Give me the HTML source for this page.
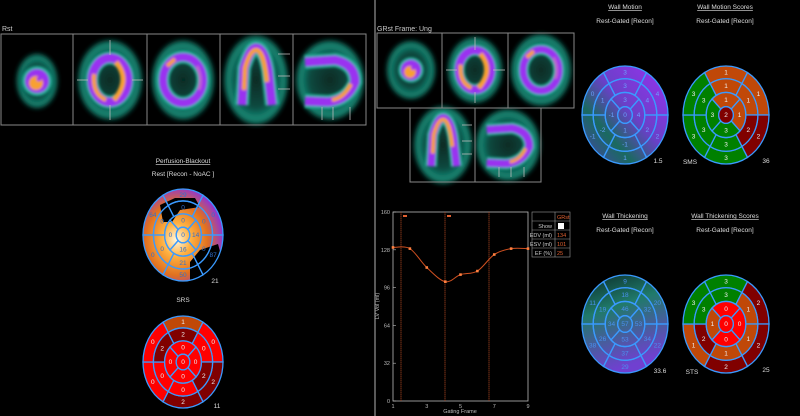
<!DOCTYPE html>
<html><head><meta charset="utf-8"><style>
html,body{margin:0;padding:0;background:#000;}
svg{display:block;font-family:"Liberation Sans",sans-serif;}
</style></head><body>
<svg id="s" width="800" height="416" viewBox="0 0 800 416" xmlns="http://www.w3.org/2000/svg">
<defs>
<filter id="b2" x="-50%" y="-50%" width="200%" height="200%"><feGaussianBlur stdDeviation="1.3"/></filter>
<filter id="b4" x="-50%" y="-50%" width="200%" height="200%"><feGaussianBlur stdDeviation="2.5"/></filter>
<radialGradient id="teal"><stop offset="0" stop-color="#062a24"/><stop offset="0.6" stop-color="#0a4a40"/><stop offset="0.85" stop-color="#168a76"/><stop offset="0.95" stop-color="#0f5a4c"/><stop offset="1" stop-color="#0a3a32" stop-opacity="0"/></radialGradient>
<radialGradient id="perf" cx="0.42" cy="0.55" r="0.6"><stop offset="0" stop-color="#fff8e0"/><stop offset="0.3" stop-color="#ffb040"/><stop offset="0.65" stop-color="#e07020"/><stop offset="1" stop-color="#8a30e0"/></radialGradient>
<linearGradient id="wm" x1="1" y1="0" x2="0" y2="1"><stop offset="0" stop-color="#9a30f0"/><stop offset="0.45" stop-color="#6a40c8"/><stop offset="0.7" stop-color="#1a6a60"/><stop offset="1" stop-color="#4a40b0"/></linearGradient>
<linearGradient id="wt" x1="0" y1="0" x2="0.3" y2="1"><stop offset="0" stop-color="#0a2a28"/><stop offset="0.4" stop-color="#207a6a"/><stop offset="1" stop-color="#7040d0"/></linearGradient>
<radialGradient id="wtc"><stop offset="0" stop-color="#e06060"/><stop offset="0.4" stop-color="#9a30f0"/><stop offset="1" stop-color="#9a30f0" stop-opacity="0"/></radialGradient>
</defs>
<line x1="375" y1="0" x2="375" y2="416" stroke="#777" stroke-width="1.5"/>
<g font-size="7" fill="#ccc">
<text x="2" y="31">Rst</text>
<text x="377" y="31">GRst  Frame: Ung</text>
</g>
<g id="imgs"></g>
<g fill="none" stroke="#888" stroke-width="1">
<rect x="1" y="34" width="365" height="91"/>
<line x1="73" y1="34" x2="73" y2="125"/><line x1="147" y1="34" x2="147" y2="125"/><line x1="220" y1="34" x2="220" y2="125"/><line x1="293" y1="34" x2="293" y2="125"/>
<rect x="377" y="33" width="197" height="75"/>
<line x1="442" y1="33" x2="442" y2="108"/><line x1="508" y1="33" x2="508" y2="108"/>
<rect x="410" y="108" width="131" height="74"/><line x1="475" y1="108" x2="475" y2="182"/>
</g>
<g stroke="#bbb" stroke-width="0.8">
<line x1="110" y1="40" x2="110" y2="55"/><line x1="110" y1="105" x2="110" y2="120"/><line x1="77" y1="80" x2="88" y2="80"/><line x1="132" y1="80" x2="143" y2="80"/>
<line x1="278" y1="54" x2="290" y2="54"/><line x1="278" y1="76" x2="290" y2="76"/><line x1="278" y1="89" x2="290" y2="89"/>
<line x1="322" y1="107" x2="322" y2="120"/><line x1="333" y1="107" x2="333" y2="120"/><line x1="350" y1="107" x2="350" y2="120"/>
<line x1="475" y1="37" x2="475" y2="50"/><line x1="475" y1="92" x2="475" y2="103"/><line x1="446" y1="70" x2="457" y2="70"/><line x1="493" y1="70" x2="505" y2="70"/>
<line x1="462" y1="125" x2="472" y2="125"/><line x1="462" y1="141" x2="472" y2="141"/><line x1="462" y1="154" x2="472" y2="154"/>
<line x1="499" y1="167" x2="499" y2="177"/><line x1="511" y1="167" x2="511" y2="177"/><line x1="524" y1="167" x2="524" y2="177"/>
</g>
<g font-size="5.5" fill="#bbb">
<rect x="393" y="212" width="135" height="189" fill="none" stroke="#bbb" stroke-width="0.8"/>
<g id="ticks"></g>
<text x="460" y="413" text-anchor="middle">Gating Frame</text>
<text transform="translate(379,306) rotate(-90)" text-anchor="middle">LV Vol (ml)</text>
</g>
<g stroke="#a04020" stroke-width="0.8" stroke-dasharray="1.5,0.5">
<line x1="401" y1="212" x2="401" y2="401"/><line x1="445" y1="212" x2="445" y2="401"/><line x1="489" y1="212" x2="489" y2="401"/>
</g>
<rect x="403" y="215" width="4" height="2" fill="#e06030"/><rect x="447" y="215" width="4" height="2" fill="#e06030"/>
<path id="curve" fill="none" stroke="#d05020" stroke-width="1"/>
<g id="pts" fill="#ff8040"></g>
<g font-size="5.5" fill="#ccc" stroke="#999" stroke-width="0.6">
<rect x="532" y="212" width="38" height="45" fill="none"/>
<line x1="532" y1="221" x2="570" y2="221"/><line x1="532" y1="230" x2="570" y2="230"/><line x1="532" y1="239" x2="570" y2="239"/><line x1="532" y1="248" x2="570" y2="248"/>
<line x1="555" y1="212" x2="555" y2="257"/>
</g>
<g font-size="5.5" fill="#ccc">
<text x="557" y="219" fill="#e06030">GRst</text>
<text x="552" y="228" text-anchor="end">Show</text><rect x="558" y="223" width="6" height="6" fill="#fff"/>
<text x="552" y="237" text-anchor="end">EDV (ml)</text><text x="557" y="237" fill="#e06030">134</text>
<text x="552" y="246" text-anchor="end">ESV (ml)</text><text x="557" y="246" fill="#e06030">101</text>
<text x="552" y="255" text-anchor="end">EF (%)</text><text x="557" y="255" fill="#e06030">25</text>
</g>
<g font-size="6.5" fill="#ddd" text-anchor="middle">
<text x="183" y="163" text-decoration="underline">Perfusion-Blackout</text>
<text x="183" y="176">Rest [Recon - NoAC ]</text>
<text x="183" y="302">SRS</text>
<text x="625" y="9" text-decoration="underline">Wall Motion</text>
<text x="625" y="23">Rest-Gated [Recon]</text>
<text x="725" y="9" text-decoration="underline">Wall Motion Scores</text>
<text x="725" y="23">Rest-Gated [Recon]</text>
<text x="625" y="218" text-decoration="underline">Wall Thickening</text>
<text x="625" y="232">Rest-Gated [Recon]</text>
<text x="725" y="218" text-decoration="underline">Wall Thickening Scores</text>
<text x="725" y="232">Rest-Gated [Recon]</text>
<text x="215" y="283">21</text><text x="217" y="408">11</text>
<text x="658" y="163">1.5</text><text x="690" y="164">SMS</text><text x="766" y="163">36</text>
<text x="660" y="373">33.6</text><text x="692" y="374">STS</text><text x="766" y="372">25</text>
</g>
<g id="bulls"></g>
</svg>
<script>
var NS="http://www.w3.org/2000/svg";
function el(t,a,p,txt){var e=document.createElementNS(NS,t);for(var k in a)e.setAttribute(k,a[k]);if(txt!=null)e.textContent=txt;(p||document.getElementById('s')).appendChild(e);return e;}
var G=document.getElementById('imgs');
var PUR='#9a30f0',ORG='#f8a030',TL='#20b09a';
function img(cx,cy,rx,ry,kind,s){
 s=s||1;
 el('ellipse',{cx:cx,cy:cy,rx:rx,ry:ry,fill:'url(#teal)',filter:'url(#b4)'},G);
 var g=el('g',{filter:'url(#b2)'},G);
 function ring(a,b,w,col){el('ellipse',{cx:cx,cy:cy,rx:a,ry:b,fill:'none',stroke:col,'stroke-width':w},g);}
 if(kind==0){el('circle',{cx:cx,cy:cy,r:15*s,fill:TL},g);el('circle',{cx:cx,cy:cy,r:12*s,fill:PUR},g);el('circle',{cx:cx-1,cy:cy+2,r:7*s,fill:ORG},g);el('circle',{cx:cx+2,cy:cy-2,r:2.5*s,fill:PUR},g);}
 if(kind==1){ring(18*s,22*s,13*s,TL);ring(18*s,22*s,9*s,PUR);el('path',{d:'M'+(cx+6*s)+' '+(cy-18*s)+' Q'+(cx+21*s)+' '+cy+' '+(cx+4*s)+' '+(cy+20*s),stroke:ORG,'stroke-width':5,fill:'none'},g);el('path',{d:'M'+(cx-16*s)+' '+(cy-6*s)+' Q'+(cx-18*s)+' '+(cy+14*s)+' '+(cx-4*s)+' '+(cy+20*s),stroke:ORG,'stroke-width':4,fill:'none'},g);}
 if(kind==2){ring(20*s,23*s,13*s,TL);ring(20*s,23*s,8*s,PUR);el('path',{d:'M'+(cx-16*s)+' '+(cy-14*s)+' L'+(cx-8*s)+' '+(cy-21*s),stroke:ORG,'stroke-width':4},g);el('path',{d:'M'+(cx+14*s)+' '+(cy-14*s)+' Q'+(cx+20*s)+' '+(cy-2*s)+' '+(cx+16*s)+' '+(cy+10*s),stroke:'#c060d0','stroke-width':3,fill:'none'},g);}
 if(kind==3){var d='M'+(cx-14*s)+' '+(cy+25*s)+' L'+(cx-12*s)+' '+(cy-12*s)+' Q'+(cx-6*s)+' '+(cy-32*s)+' '+cx+' '+(cy-32*s)+' Q'+(cx+8*s)+' '+(cy-32*s)+' '+(cx+12*s)+' '+(cy-10*s)+' L'+(cx+16*s)+' '+(cy+25*s);
  el('path',{d:d,fill:'none',stroke:TL,'stroke-width':14*s},g);el('path',{d:d,fill:'none',stroke:PUR,'stroke-width':9*s},g);
  el('path',{d:'M'+(cx-12*s)+' '+(cy+10*s)+' L'+(cx-11*s)+' '+(cy-12*s)+' Q'+(cx-6*s)+' '+(cy-30*s)+' '+cx+' '+(cy-30*s)+' Q'+(cx+8*s)+' '+(cy-30*s)+' '+(cx+11*s)+' '+(cy+2*s),fill:'none',stroke:ORG,'stroke-width':4.5*s},g);}
 if(kind==4){var d='M'+(cx-25*s)+' '+(cy-18*s)+' L'+(cx+5*s)+' '+(cy-20*s)+' Q'+(cx+25*s)+' '+(cy-16*s)+' '+(cx+25*s)+' '+(cy+2*s)+' Q'+(cx+18*s)+' '+(cy+20*s)+' '+(cx-2*s)+' '+(cy+22*s)+' L'+(cx-25*s)+' '+(cy+21*s);
  el('path',{d:d,fill:'none',stroke:TL,'stroke-width':14*s},g);el('path',{d:d,fill:'none',stroke:PUR,'stroke-width':9*s},g);
  el('path',{d:'M'+(cx+21*s)+' '+(cy+4*s)+' Q'+(cx+14*s)+' '+(cy+18*s)+' '+(cx+2*s)+' '+(cy+20*s),fill:'none',stroke:ORG,'stroke-width':4*s},g);}
}
img(37,81,21,28,0);img(110,80,33,41,1);img(183,80,32,41,2);img(256,80,33,46,3);img(330,80,35,41,4);
img(411,70,25,30,0,0.85);img(475,70,28,34,1,0.9);img(541,70,31,37,2,0.9);img(443,145,30,40,3,0.85);img(508,145,33,37,4,0.85);
var T=document.getElementById('ticks');
function X(f){return 393+(f-1)*135/8;}function Y(v){return 401-v*189/160;}
[0,32,64,96,128,160].forEach(function(v){el('text',{x:390,y:Y(v)+2,'text-anchor':'end'},T,String(v));el('line',{x1:393,y1:Y(v),x2:396,y2:Y(v),stroke:'#bbb','stroke-width':0.6},T);});
[1,3,5,7,9].forEach(function(f){el('text',{x:X(f),y:408,'text-anchor':'middle'},T,String(f));});
var data=[[1,130],[2,129],[3,113],[4.1,101],[5,107],[6,110],[7,124],[8,129],[9,129]];
var d='M'+X(1)+' '+Y(130);
for(var i=0;i<data.length-1;i++){var a=data[i],b=data[i+1],p=data[i-1]||a,n=data[i+2]||b;
 var c1x=X(a[0])+(X(b[0])-X(p[0]))/6,c1y=Y(a[1])+(Y(b[1])-Y(p[1]))/6,c2x=X(b[0])-(X(n[0])-X(a[0]))/6,c2y=Y(b[1])-(Y(n[1])-Y(a[1]))/6;
 d+=' C'+c1x+' '+c1y+' '+c2x+' '+c2y+' '+X(b[0])+' '+Y(b[1]);}
document.getElementById('curve').setAttribute('d',d);
var P=document.getElementById('pts');data.forEach(function(a){el('rect',{x:X(a[0])-1.3,y:Y(a[1])-1.3,width:2.6,height:2.6},P);});
var B=document.getElementById('bulls');
var R=[1,0.74,0.46,0.17];
function pt(cx,cy,rx,ry,r,t){t=t*Math.PI/180;return [cx+rx*r*Math.cos(t),cy-ry*r*Math.sin(t)];}
function seg(cx,cy,rx,ry,r1,r2,a1,a2){var p1=pt(cx,cy,rx,ry,r2,a1),p2=pt(cx,cy,rx,ry,r2,a2),p3=pt(cx,cy,rx,ry,r1,a2),p4=pt(cx,cy,rx,ry,r1,a1);
 return 'M'+p1+' A'+rx*r2+' '+ry*r2+' 0 0 0 '+p2+' L'+p3+' A'+rx*r1+' '+ry*r1+' 0 0 1 '+p4+'Z';}
var A6=[[60,120],[0,60],[-60,0],[-120,-60],[180,240],[120,180]],A4=[[45,135],[-45,45],[-135,-45],[135,225]];
var COL={'0':'#ff0000','1':'#c04808','2':'#800000','3':'#008000'};
function bull(cx,cy,rx,ry,labels,fills,bg,tc){
 var g=el('g',{},B);
 if(bg){el('ellipse',{cx:cx,cy:cy,rx:rx,ry:ry,fill:bg},g);}
 var k=0;
 function add(r1,r2,a1,a2){var f=fills?COL[labels[k]]:'none';el('path',{d:seg(cx,cy,rx,ry,r1,r2,a1,a2),fill:f,stroke:'#3a9aff','stroke-width':1.3},g);
  var m=pt(cx,cy,rx,ry,(r1+r2)/2,(a1+a2)/2);el('text',{x:m[0],y:m[1]+2.2,'font-size':6.5,fill:tc,'text-anchor':'middle'},g,labels[k]);k++;}
 A6.forEach(function(a){add(R[1],R[0],a[0],a[1]);});
 A6.forEach(function(a){add(R[2],R[1],a[0],a[1]);});
 A4.forEach(function(a){add(R[3],R[2],a[0],a[1]);});
 el('ellipse',{cx:cx,cy:cy,rx:rx*R[3],ry:ry*R[3],fill:fills?COL[labels[k]]:'none',stroke:'#3a9aff','stroke-width':1.3},g);
 el('text',{x:cx,y:cy+2.2,'font-size':6.5,fill:tc,'text-anchor':'middle'},g,labels[k]);
}
el('ellipse',{cx:183,cy:235,rx:40,ry:46,fill:'url(#perf)'},B);
el('path',{d:'M160 205 L175 198 L195 198 L200 207 L180 210 L172 222 L163 222 Z',fill:'#000'},B);
el('path',{d:'M190 262 L200 250 L218 244 L221 255 L212 272 L200 280 L190 280 Z',fill:'#000'},B);
bull(183,235,40,46,['29','0','87','50','0','64','0','0','0','21','0','0','0','14','16','0','0'],false,null,'#3070d0');
bull(183,362,40,46,['1','0','2','2','0','0','2','0','2','0','0','2','0','0','0','0','0'],true,null,'#eee');
bull(625,115,43,49,['3','4','2','1','-1','0','3','4','2','-1','-2','1','3','4','1','-1','0'],false,'url(#wm)','#6aa0ff');
bull(726,115,43,49,['1','1','2','3','3','3','1','1','2','3','3','3','1','1','3','3','2'],true,null,'#eee');
el('ellipse',{cx:627,cy:324,rx:16,ry:20,fill:'url(#wtc)'},B);
bull(625,324,43,49,['9','20','22','29','38','11','18','32','34','37','26','19','46','53','53','34','57'],false,'url(#wt)','#4a90f0');
bull(726,324,43,49,['3','2','2','2','1','3','3','1','1','1','2','3','0','0','0','1','0'],true,null,'#eee');
</script>
</body></html>
